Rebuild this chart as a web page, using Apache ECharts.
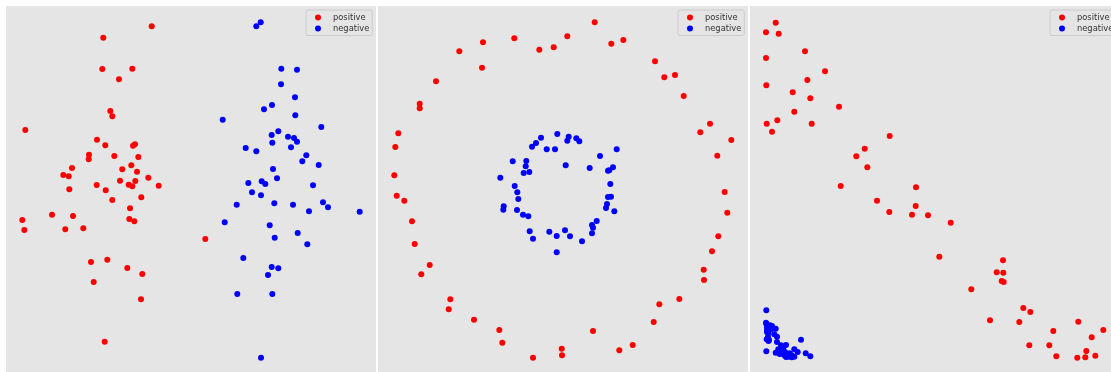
<!DOCTYPE html>
<html>
<head>
<meta charset="utf-8">
<script src="https://cdn.jsdelivr.net/npm/echarts@6/dist/echarts.min.js"></script>
<style>
  html, body { margin: 0; padding: 0; background: #ffffff; }
  #chart { width: 1111px; height: 372px; }
</style>
</head>
<body>
<div id="chart"></div>
<script>
// Class labels
const classNames = ['positive', 'negative'];

// Panel 1: two blobs
const blobsPositive = [
  [145.7,345.7],[97.3,334.3],[96.3,303],[126.3,303.3],[113,292.7],[104.3,261],[106.3,255.7],
  [19.3,242],[91,232.3],[99.3,226.7],[127,226.3],[129,227.7],[83,217.3],[82.7,212.7],
  [108.3,216],[132.3,215],[66,204],[125.3,206.7],[116.3,202.7],[57.3,197],[62.7,195.7],
  [131,200.3],[142.3,194.3],[114,191.3],[129.3,191],[90.7,187],[122.7,187.3],[126.3,185.7],
  [152.7,186.3],[63.3,182.7],[99.7,181.7],[106.3,172],[135.3,174.7],[124,163.7],[16.3,152],
  [46,157.3],[67,156],[18.3,142],[59.3,142.7],[77.3,143.7],[123.3,153],[128.3,150.7],
  [199.3,133],[85,110],[101.3,112.3],[121.3,104],[136.3,98],[87.7,90],[135,72.7],[98.7,30.3]
];
const blobsNegative = [
  [250.3,345.7],[254.7,349.7],[275.3,303.3],[291,302.3],[275,287.7],[289,274.7],[258,262.7],
  [266,267],[289.3,256.7],[216.7,252.3],[315.3,245],[272.3,240.7],[265.7,237],[282,235.3],
  [288,234],[291,230.3],[266.3,229.3],[239.7,224],[250.3,220.7],[285,224.7],[300.3,216.7],
  [296.3,210.7],[312.7,207],[267,203],[271,193.7],[242.3,189],[255.7,190.7],[259.3,188],
  [307,186.7],[246,179.7],[255,176.7],[230.7,167.3],[268.3,168.7],[287,167.3],[317,169.7],
  [322,164.7],[303,160.7],[353.7,160.3],[218.7,149.7],[263.7,146.7],[268.7,134.3],[291.7,139],
  [301.3,127.7],[237.3,114],[265.7,105],[272.3,103.7],[262,97],[231.3,78],[266.3,78],[255,14.3]
];

// Panel 2: concentric circles
const circlesPositive = [
  [216.7,349.7],[105,329.7],[136.3,333.7],[189.3,335.7],[81.3,320.7],[161.3,322.3],[175.7,324.7],
  [233.3,328.3],[245.3,332],[104,304.3],[277,310.7],[286.3,294.7],[297,297],[58,290.7],
  [305.7,276],[41.7,268.3],[41.7,263.7],[20.3,238.7],[17.3,225],[332,248.3],[322.3,239.7],
  [353.3,232],[339.3,216.3],[16.3,196.7],[346.7,180],[18.7,176.3],[26.3,171.3],[349.3,159.3],
  [34,150.7],[340.3,135.7],[36.7,128],[334,120.7],[51.7,107],[43.3,97.7],[325.7,102.3],
  [326,92],[72.3,72.7],[70.7,62.7],[301.3,73],[281.3,67.7],[96,52.3],[275.7,50],[121.3,42],
  [215,41],[124.3,29.3],[183.7,23.3],[184,16.7],[155,14.3],[241.3,21.7],[254.7,27]
];
const circlesNegative = [
  [179.3,238],[163,234.3],[158,229],[154,225.3],[190.7,235.3],[189.3,231.3],[198.3,233.7],
  [201.3,230.7],[168.7,222.7],[177,222.7],[238.7,222.7],[222,216],[134.7,210.7],[148.3,211],
  [147.7,205.7],[187.7,206.7],[211.7,204],[235,204.7],[230,201.3],[231.3,201.7],[145.7,199],
  [151.3,200],[122.3,194.3],[136.7,186],[232.3,188],[139.3,179.7],[140.3,173],[125.7,165.7],
  [125.3,162.3],[139,162],[145,157.3],[150.3,155.7],[230,175],[233,175.3],[229,168],[228,164],
  [236.3,160.7],[218.7,151],[214,147],[215,144.3],[214,138.7],[151.7,140.7],[155,133.3],
  [171.3,140.3],[178.7,136],[187,141.7],[192,135.7],[204,130.7],[178.7,119.7]
];

// Panel 3: diagonal band vs. corner cluster
const bandPositive = [
  [25.7,349.3],[16,339.7],[28.7,338.3],[55,320.7],[16,314],[75,300.7],[57.3,292],[16.3,286.7],
  [42.7,279.7],[60.3,273.7],[89,265.3],[44.3,260.3],[16.7,248.3],[27.3,251.7],[61.7,248.3],
  [22,240.3],[139.7,236],[114.7,223.3],[106.3,215.7],[117.3,204.7],[90.7,186],[166,184.7],
  [127,171.3],[139.3,160],[165.7,166],[162,157.3],[178,156.7],[200.7,149.3],[189.3,115.3],
  [253,111.7],[246.7,99.7],[253.3,99.3],[251.7,91],[253.7,90],[221.3,82.7],[273.3,64],
  [280.3,60],[240,51.7],[269.3,50],[328.3,50.3],[353.3,42],[303.3,41],[341.7,34.7],
  [279.3,26.7],[299.3,26.7],[306.3,15.7],[327.3,14.3],[335.3,14.7],[345.3,16.3],[336.3,21]
];
const bandNegative = [
  [16.3,61.7],[16,49.3],[20,46.7],[17,44.7],[21,42.7],[25.7,43.3],[17,40],[18.3,38.7],
  [24.3,37.7],[27,35.3],[16.7,32.7],[19,32],[27,30],[51,32.3],[31,26.7],[33.7,25.3],
  [28.3,22.7],[33,22],[44.3,22.7],[47.7,20],[16.3,20.7],[25.7,19.3],[29.7,18],[31.7,18.7],
  [39.7,18.7],[41.7,16.7],[55.7,18.7],[60.3,15.7],[38.3,15.3],[41.7,14.7],[44.3,15.3],
  [34.3,16.7],[16.5,48],[18,35],[22,46],[36,27],[35,20],[36,15],[17,42],[18.5,31]
];

const panels = [
  { pos: blobsPositive, neg: blobsNegative },
  { pos: circlesPositive, neg: circlesNegative },
  { pos: bandPositive, neg: bandNegative }
];

const CANVAS_W = 1111;
const PANEL_LEFT = [6, 378, 750];
const PANEL_W = 370, PANEL_TOP = 6, PANEL_H = 366;
const BG = '#e5e5e5';
const COLORS = ['#ff0000', '#0000ff'];

const grid = [], xAxis = [], yAxis = [], series = [], legend = [];
panels.forEach((p, i) => {
  // the last panel runs past the right edge of the canvas: keep the same
  // pixel scale by trimming both its width and its x range
  const w = Math.min(PANEL_W, CANVAS_W - PANEL_LEFT[i]);
  grid.push({
    left: PANEL_LEFT[i], top: PANEL_TOP, width: w, height: PANEL_H,
    show: true, backgroundColor: BG, borderWidth: 0
  });
  xAxis.push({ gridIndex: i, type: 'value', min: 0, max: w, show: false });
  yAxis.push({ gridIndex: i, type: 'value', min: 0, max: PANEL_H, show: false });
  [p.pos, p.neg].forEach((data, k) => {
    series.push({
      name: classNames[k], type: 'scatter', xAxisIndex: i, yAxisIndex: i,
      data: data, symbol: 'circle', symbolSize: 6,
      itemStyle: { color: COLORS[k], opacity: 1 },
      emphasis: { disabled: true }, animation: false
    });
  });
  legend.push({
    data: classNames.map(n => ({ name: n, icon: 'circle' })),
    orient: 'vertical',
    left: PANEL_LEFT[i] + 300, top: 10,
    itemWidth: 6, itemHeight: 6, itemGap: 3,
    padding: [3.5, 3, 3, 9],
    backgroundColor: BG, borderColor: '#cccccc', borderWidth: 1, borderRadius: 2,
    selectedMode: false,
    textStyle: { fontFamily: 'DejaVu Sans', fontSize: 8.3, color: '#333333', padding: [0, 0, 0, 7] }
  });
});

const chart = echarts.init(document.getElementById('chart'), null, { renderer: 'canvas' });
chart.setOption({
  backgroundColor: '#ffffff',
  animation: false,
  grid, xAxis, yAxis, legend, series
});
</script>
</body>
</html>
